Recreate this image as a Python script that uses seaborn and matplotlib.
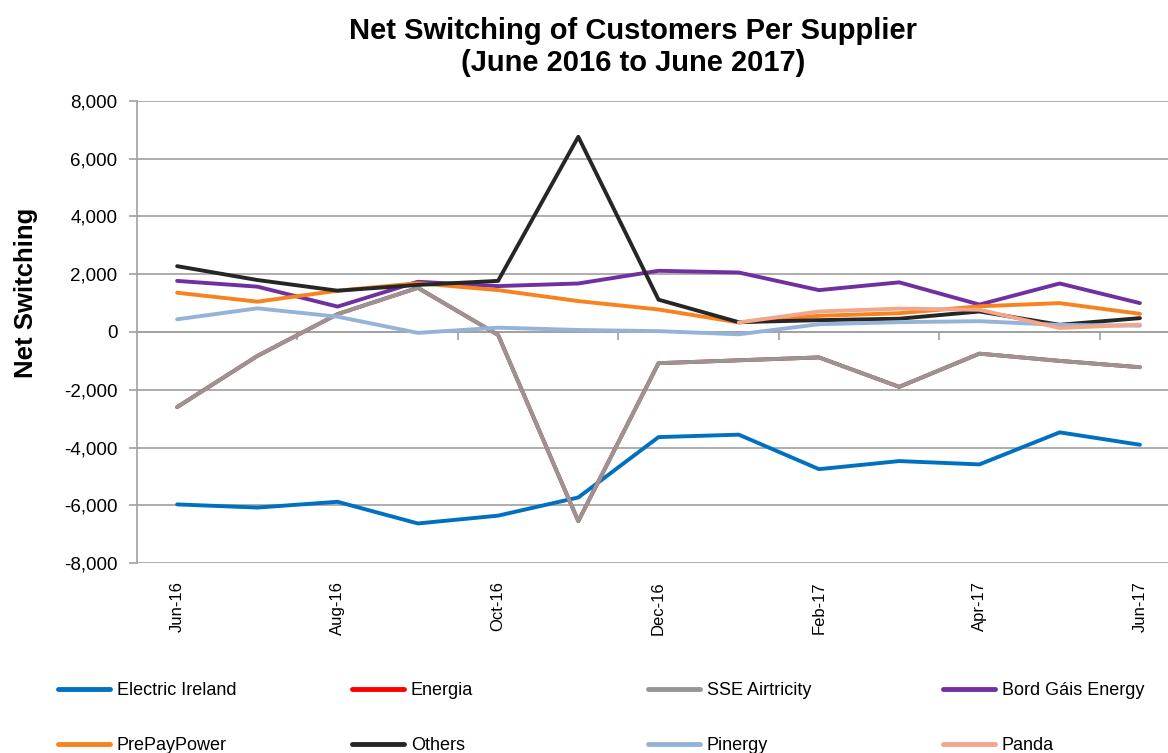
import numpy as np
import pandas as pd
import seaborn as sns
import matplotlib.pyplot as plt
from matplotlib.ticker import FuncFormatter

months = ['Jun-16', 'Jul-16', 'Aug-16', 'Sep-16', 'Oct-16', 'Nov-16', 'Dec-16',
          'Jan-17', 'Feb-17', 'Mar-17', 'Apr-17', 'May-17', 'Jun-17']

electric_ireland = [-5970, -6080, -5880, -6630, -6360, -5730, -3640, -3555, -4750, -4470, -4585, -3475, -3905]
energia = [-2600, -830, 620, 1530, -100, -6550, -1080, -980, -880, -1900, -750, -1000, -1220]
sse_airtricity = [-2600, -830, 620, 1530, -100, -6550, -1080, -980, -880, -1900, -750, -1000, -1220]
bord_gais = [1770, 1570, 880, 1740, 1590, 1680, 2120, 2060, 1450, 1720, 950, 1680, 1000]
prepaypower = [1360, 1050, 1430, 1690, 1450, 1070, 780, 330, 560, 650, 890, 1000, 630]
others = [2280, 1800, 1430, 1630, 1770, 6760, 1120, 340, 410, 460, 710, 250, 480]
pinergy = [440, 820, 530, -30, 150, 70, 30, -80, 270, 340, 375, 245, 220]
panda = [np.nan] * 7 + [330, 710, 810, 770, 140, 255]

suppliers = ['Electric Ireland', 'Energia', 'SSE Airtricity', 'Bord Gáis Energy',
             'PrePayPower', 'Others', 'Pinergy', 'Panda']
series = [electric_ireland, energia, sse_airtricity, bord_gais,
          prepaypower, others, pinergy, panda]
colors = ['#0070C0', '#FF0000', '#969696', '#7030A0',
          '#F7821E', '#262626', '#95B3D7', '#F2A68A']

sns.set_theme(style='white')
plt.rcParams['font.family'] = ['Liberation Sans', 'DejaVu Sans']
plt.rcParams['text.color'] = 'black'

rows = []
for name, vals in zip(suppliers, series):
    for i, v in enumerate(vals):
        rows.append({'month': i, 'supplier': name, 'value': v})
df = pd.DataFrame(rows).dropna()

fig = plt.figure(figsize=(11.68, 7.53), dpi=100)
ax = fig.add_axes([0.1173, 0.2523, 0.893, 0.6136])

sns.lineplot(data=df, x='month', y='value', hue='supplier', hue_order=suppliers,
             palette=dict(zip(suppliers, colors)), linewidth=2.8, ax=ax,
             legend=False, sort=True)

ax.set_xlim(-0.5, 12.5)
ax.set_ylim(-8000, 8000)
ax.set_yticks(range(-8000, 8001, 2000))
ax.yaxis.set_major_formatter(FuncFormatter(lambda v, p: f'{int(v):,}'))
ax.set_xticks(range(0, 13, 2))
ax.set_xticklabels(months[::2], rotation=90, va='top', ha='center')
ax.tick_params(axis='x', length=0, pad=13, labelsize=12, labelcolor='black')
ax.tick_params(axis='y', length=6, width=1.2, color='#a0a0a0', pad=8,
               labelsize=13.5, left=True, labelcolor='black')
ax.set_xlabel('')
ax.set_ylabel('Net Switching', fontsize=18.5, fontweight='bold', color='black')
ax.yaxis.set_label_coords(-0.095, 0.585)

ax.grid(axis='y', color='#a0a0a0', linewidth=1.2)
ax.grid(axis='x', visible=False)
for side in ['top', 'right', 'bottom']:
    ax.spines[side].set_visible(False)
ax.spines['left'].set_color('#a0a0a0')
ax.spines['left'].set_linewidth(1.2)

# category axis crosses at zero, ticks between every second pair of months
sec = ax.secondary_xaxis(0.5)
sec.set_xticks([1.5, 3.5, 5.5, 7.5, 9.5, 11.5])
sec.set_xticklabels([])
sec.tick_params(length=6, width=1.2, color='#a0a0a0', direction='in')
for sp in sec.spines.values():
    sp.set_color('#a0a0a0')
    sp.set_linewidth(1.2)

fig.suptitle('Net Switching of Customers Per Supplier\n(June 2016 to June 2017)',
             fontsize=21, fontweight='bold', x=0.542, y=0.978, linespacing=1.2,
             color='black')

lines = ax.get_lines()[:len(suppliers)]
col_x = [58, 352, 648, 943]
for c in range(4):
    leg = fig.legend([lines[c], lines[c + 4]], [suppliers[c], suppliers[c + 4]],
                     loc='upper left', bbox_to_anchor=(col_x[c] / 1168, 1 - 682 / 753),
                     frameon=False, fontsize=13, handlelength=2.9, handletextpad=0.35,
                     labelspacing=2.1, borderpad=0, borderaxespad=0)
    for h in leg.get_lines():
        h.set_linewidth(3.5)
    for t in leg.get_texts():
        t.set_color('black')

fig.savefig('out.png', dpi=100)
